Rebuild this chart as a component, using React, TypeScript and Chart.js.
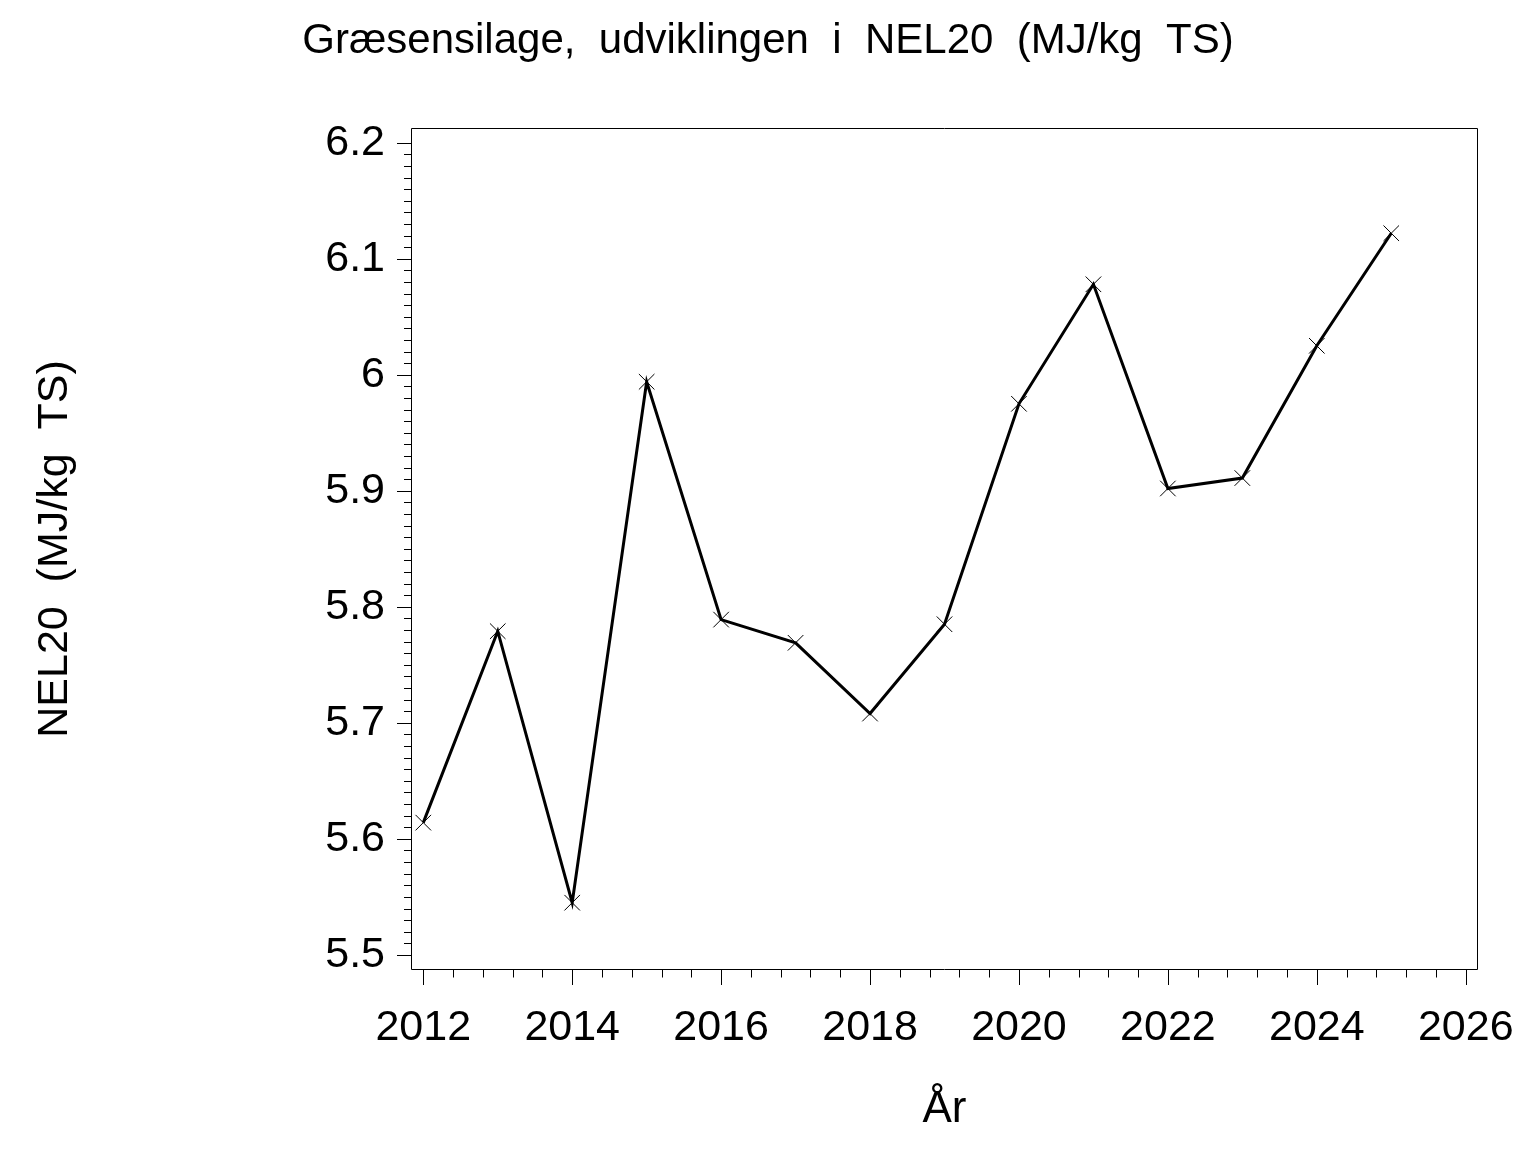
import React, { useEffect, useRef } from "react";
import { Chart, registerables } from "chart.js";

Chart.register(...registerables);

// ---- data ----
const years = [2012, 2013, 2014, 2015, 2016, 2017, 2018, 2019, 2020, 2021, 2022, 2023, 2024, 2025];
const nelValues = [5.614, 5.779, 5.545, 5.994, 5.789, 5.769, 5.708, 5.785, 5.975, 6.078, 5.902, 5.911, 6.025, 6.122];

const xTickValues = [2012, 2014, 2016, 2018, 2020, 2022, 2024, 2026];
const xTickLabels = ["2012", "2014", "2016", "2018", "2020", "2022", "2024", "2026"];
const yTickValues = [5.5, 5.6, 5.7, 5.8, 5.9, 6.0, 6.1, 6.2];
const yTickLabels = ["5.5", "5.6", "5.7", "5.8", "5.9", "6", "6.1", "6.2"];

const titleText = "Græsensilage,  udviklingen  i  NEL20  (MJ/kg  TS)";
const yTitleText = "NEL20  (MJ/kg  TS)";
const xTitleText = "År";

// ---- axis ranges / styling ----
const X_MIN = 2011.835;
const X_MAX = 2026.165;
const Y_MIN = 5.487;
const Y_MAX = 6.2127;
const X_MINOR_PER_MAJOR = 5; // 4 minor ticks between majors
const Y_MINOR_PER_MAJOR = 10; // 9 minor ticks between majors
const FONT = "'Liberation Sans', Arial, Helvetica, sans-serif";
const TITLE_SIZE = 42;

function minorValues(majors: number[], parts: number): number[] {
  const out: number[] = [];
  for (let i = 0; i < majors.length - 1; i++) {
    const step = (majors[i + 1] - majors[i]) / parts;
    for (let k = 1; k < parts; k++) out.push(majors[i] + step * k);
  }
  return out;
}

const frameAndTicks = {
  id: "frameAndTicks",
  afterDraw(chart: any) {
    const { ctx, chartArea } = chart;
    const { left, right, top, bottom } = chartArea;
    const xs = chart.scales.x;
    const ys = chart.scales.y;
    ctx.save();
    ctx.strokeStyle = "#000";
    ctx.lineWidth = 1;
    ctx.beginPath();
    ctx.rect(left + 0.5, top + 0.5, right - left - 1, bottom - top - 1);
    ctx.stroke();

    ctx.beginPath();
    for (const v of yTickValues) {
      const p = Math.round(ys.getPixelForValue(v)) + 0.5;
      ctx.moveTo(left - 14, p);
      ctx.lineTo(left + 0.5, p);
    }
    for (const v of minorValues(yTickValues, Y_MINOR_PER_MAJOR)) {
      const p = Math.round(ys.getPixelForValue(v)) + 0.5;
      ctx.moveTo(left - 7, p);
      ctx.lineTo(left + 0.5, p);
    }
    for (const v of xTickValues) {
      const p = Math.round(xs.getPixelForValue(v)) + 0.5;
      ctx.moveTo(p, bottom - 0.5);
      ctx.lineTo(p, bottom + 15);
    }
    for (const v of minorValues(xTickValues, X_MINOR_PER_MAJOR)) {
      const p = Math.round(xs.getPixelForValue(v)) + 0.5;
      ctx.moveTo(p, bottom - 0.5);
      ctx.lineTo(p, bottom + 7.5);
    }
    ctx.stroke();
    ctx.restore();
  },
};

export default function App() {
  const canvasRef = useRef<HTMLCanvasElement | null>(null);

  useEffect(() => {
    const canvas = canvasRef.current;
    if (!canvas) return;
    const chart = new Chart(canvas, {
      type: "line",
      data: {
        datasets: [
          {
            data: years.map((yr, i) => ({ x: yr, y: nelValues[i] })),
            borderColor: "#000",
            borderWidth: 3,
            pointStyle: "crossRot",
            pointRadius: 11,
            pointBorderWidth: 1,
            pointBorderColor: "#000",
            pointBackgroundColor: "#000",
            tension: 0,
          },
        ],
      },
      options: {
        responsive: false,
        animation: false,
        devicePixelRatio: 1,
        layout: { padding: 0 },
        plugins: {
          legend: { display: false },
          tooltip: { enabled: false },
          title: {
            display: true,
            text: titleText,
            color: "#000",
            font: { family: FONT, size: TITLE_SIZE, weight: "normal" },
            padding: { top: 16, bottom: 128 - 16 - TITLE_SIZE * 1.2 },
          },
        },
        scales: {
          x: {
            type: "linear",
            min: X_MIN,
            max: X_MAX,
            grid: { display: false, drawTicks: false },
            border: { display: false },
            afterBuildTicks: (scale: any) => {
              scale.ticks = xTickValues.map((v) => ({ value: v }));
            },
            afterFit: (scale: any) => {
              scale.height = 182;
              scale.paddingLeft = 0;
              scale.paddingRight = 0;
            },
            ticks: {
              autoSkip: false,
              maxRotation: 0,
              padding: 32,
              color: "#000",
              font: { family: FONT, size: 43 },
              callback: (value: any) => {
                const i = xTickValues.indexOf(Number(value));
                return i >= 0 ? xTickLabels[i] : "";
              },
            },
            title: {
              display: true,
              text: xTitleText,
              color: "#000",
              font: { family: FONT, size: 44 },
              padding: { top: 0, bottom: 16 },
            },
          },
          y: {
            type: "linear",
            min: Y_MIN,
            max: Y_MAX,
            grid: { display: false, drawTicks: false },
            border: { display: false },
            afterBuildTicks: (scale: any) => {
              scale.ticks = yTickValues.map((v) => ({ value: v }));
            },
            afterFit: (scale: any) => {
              scale.width = 411;
              scale.paddingTop = 0;
              scale.paddingBottom = 0;
            },
            ticks: {
              autoSkip: false,
              padding: 26,
              color: "#000",
              font: { family: FONT, size: 43 },
              callback: (value: any) => {
                const i = yTickValues.findIndex((v) => Math.abs(v - Number(value)) < 1e-6);
                return i >= 0 ? yTickLabels[i] : "";
              },
            },
            title: {
              display: true,
              text: yTitleText,
              color: "#000",
              font: { family: FONT, size: 43 },
              padding: { top: 29, bottom: 0 },
            },
          },
          // empty right-hand spacer axis so the title centres on the whole page
          yRight: {
            type: "linear",
            position: "right",
            min: Y_MIN,
            max: Y_MAX,
            grid: { display: false, drawTicks: false },
            border: { display: false },
            ticks: { display: false },
            afterFit: (scale: any) => {
              scale.width = 58;
              scale.paddingTop = 0;
              scale.paddingBottom = 0;
            },
          },
        },
      },
      plugins: [frameAndTicks],
    });
    return () => chart.destroy();
  }, []);

  return (
    <div style={{ position: "fixed", left: 0, top: 0, width: 1536, height: 1152, background: "#fff" }}>
      <canvas ref={canvasRef} width={1536} height={1152} style={{ display: "block" }} />
    </div>
  );
}
